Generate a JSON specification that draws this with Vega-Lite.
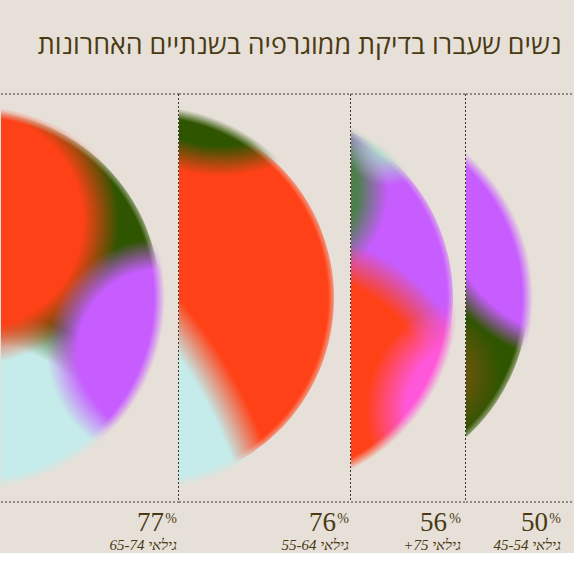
{
  "$schema": "https://vega.github.io/schema/vega-lite/v6.json",
  "background": "#e7e0d9",
  "padding": {"left": 0, "right": 0, "top": 32, "bottom": 0},
  "spacing": 0,
  "bounds": "flush",
  "title": {"text": "נשים שעברו בדיקת ממוגרפיה בשנתיים האחרונות", "anchor": "end", "fontSize": 26.8, "font": "Open Sans", "fontWeight": "normal", "color": "#4a3a12", "dx": -14, "offset": 34},
  "datasets": {
    "groups": [
      {"age": "65-74", "pct": 77, "label": "\u202bגילאי 65-74\u202c", "x": -28, "y": 204},
      {"age": "55-64", "pct": 76, "label": "\u202bגילאי 55-64\u202c", "x": -32, "y": 204},
      {"age": "75+", "pct": 56, "label": "\u202bגילאי 75+\u202c", "x": -85, "y": 204},
      {"age": "45-54", "pct": 50, "label": "\u202bגילאי 45-54\u202c", "x": -125, "y": 204}
    ],
    "red": [{"age": "65-74", "x": -25, "y": 127, "r": 143}, {"age": "75+", "x": -60, "y": 327, "r": 188}],
    "cyan": [{"age": "65-74", "x": -20, "y": 382, "r": 168}, {"age": "55-64", "x": -360, "y": 513, "r": 474}],
    "purple": [{"age": "65-74", "x": 158, "y": 257, "r": 112}, {"age": "45-54", "x": 119, "y": 104, "r": 167}],
    "green": [{"age": "55-64", "x": 42, "y": -73, "r": 155}],
    "sage": [{"age": "75+", "x": -60, "y": 97, "r": 97}],
    "mint": [{"age": "75+", "x": 38, "y": 47, "r": 45}],
    "pink": [{"age": "75+", "x": 130, "y": 317, "r": 115}],
    "brown": [{"age": "45-54", "x": -30, "y": 280, "r": 65}]
  },
  "resolve": {"scale": {"x": "independent", "y": "independent"}},
  "hconcat": [
    {
      "width": 178, "height": 408,
      "encoding": {
        "x": {"field": "x", "type": "quantitative", "scale": {"domain": [0, 178], "nice": false, "zero": false}, "axis": null},
        "y": {"field": "y", "type": "quantitative", "scale": {"domain": [0, 408], "nice": false, "zero": false, "reverse": true}, "axis": null}
      },
      "layer": [
        {"data": {"name": "groups"}, "transform": [{"filter": "datum.age == '65-74'"}],
         "mark": {"type": "arc", "clip": true, "radius": 187, "theta": 0, "theta2": 6.2832},
         "encoding": {"color": {"field": "age", "type": "nominal", "scale": {"domain": ["65-74", "55-64", "75+", "45-54"], "range": ["#2f5500", "#ff4117", "#c75cff", "#2f5500"]}, "legend": null}}},
        {"data": {"name": "cyan"}, "transform": [{"filter": "datum.age == '65-74'"}],
         "mark": {"type": "arc", "clip": true, "theta": 0, "theta2": 6.2832, "fill": {"gradient": "radial", "x1": 0.5, "y1": 0.5, "r1": 0, "x2": 0.5, "y2": 0.5, "r2": 0.5, "stops": [{"offset": 0, "color": "#c5ebea"}, {"offset": 0.786, "color": "#c5ebea"}, {"offset": 1, "color": "rgba(197,235,234,0)"}]}},
         "encoding": {"radius": {"field": "r", "type": "quantitative", "scale": {"type": "linear", "domain": [0, 600], "range": [0, 600]}}}},
        {"data": {"name": "red"}, "transform": [{"filter": "datum.age == '65-74'"}],
         "mark": {"type": "arc", "clip": true, "theta": 0, "theta2": 6.2832, "fill": {"gradient": "radial", "x1": 0.5, "y1": 0.5, "r1": 0, "x2": 0.5, "y2": 0.5, "r2": 0.5, "stops": [{"offset": 0, "color": "#ff4117"}, {"offset": 0.748, "color": "#ff4117"}, {"offset": 1, "color": "rgba(255,65,23,0)"}]}},
         "encoding": {"radius": {"field": "r", "type": "quantitative", "scale": {"type": "linear", "domain": [0, 600], "range": [0, 600]}}}},
        {"data": {"name": "purple"}, "transform": [{"filter": "datum.age == '65-74'"}],
         "mark": {"type": "arc", "clip": true, "theta": 0, "theta2": 6.2832, "fill": {"gradient": "radial", "x1": 0.5, "y1": 0.5, "r1": 0, "x2": 0.5, "y2": 0.5, "r2": 0.5, "stops": [{"offset": 0, "color": "#c75cff"}, {"offset": 0.727, "color": "#c75cff"}, {"offset": 1, "color": "rgba(199,92,255,0)"}]}},
         "encoding": {"radius": {"field": "r", "type": "quantitative", "scale": {"type": "linear", "domain": [0, 600], "range": [0, 600]}}}},
        {"data": {"name": "groups"}, "transform": [{"filter": "datum.age == '65-74'"}],
         "mark": {"type": "arc", "clip": true, "radius": 400, "radius2": 181, "theta": 0, "theta2": 6.2832, "fill": {"gradient": "radial", "x1": 0.5, "y1": 0.5, "r1": 0, "x2": 0.5, "y2": 0.5, "r2": 0.5, "stops": [{"offset": 0, "color": "rgba(231,224,217,0)"}, {"offset": 0.4525, "color": "rgba(231,224,217,0)"}, {"offset": 0.48, "color": "rgb(231,224,217)"}, {"offset": 1, "color": "rgb(231,224,217)"}]}}},
        {"data": {"name": "groups"}, "transform": [{"filter": "datum.age == '65-74'"}],
         "mark": {"type": "rule", "strokeDash": [2, 2], "color": "#3b3729", "strokeWidth": 1},
         "encoding": {"x": {"datum": 0}, "x2": {"datum": 178}, "y": {"datum": 0}}},
        {"data": {"name": "groups"}, "transform": [{"filter": "datum.age == '65-74'"}],
         "mark": {"type": "rule", "strokeDash": [2, 2], "color": "#3b3729", "strokeWidth": 1},
         "encoding": {"x": {"datum": 0}, "x2": {"datum": 178}, "y": {"datum": 408}}},
        {"data": {"name": "groups"}, "transform": [{"filter": "datum.age == '65-74'"}],
         "mark": {"type": "rule", "strokeDash": [2, 2], "color": "#3b3729", "strokeWidth": 1},
         "encoding": {"x": {"datum": 177.5}, "y": {"datum": 0}, "y2": {"datum": 408}}},
        {"data": {"name": "groups"}, "transform": [{"filter": "datum.age == '65-74'"}],
         "mark": {"type": "text", "align": "right", "baseline": "alphabetic", "font": "Liberation Serif", "fontSize": 27, "color": "#4a3a12", "dx": -15, "dy": 29},
         "encoding": {"x": {"value": "width"}, "y": {"value": "height"}, "text": {"field": "pct", "type": "quantitative"}}},
        {"data": {"name": "groups"}, "transform": [{"filter": "datum.age == '65-74'"}],
         "mark": {"type": "text", "align": "right", "baseline": "alphabetic", "font": "Liberation Serif", "fontSize": 14, "color": "#4a3a12", "dx": -2, "dy": 21},
         "encoding": {"x": {"value": "width"}, "y": {"value": "height"}, "text": {"value": "%"}}},
        {"data": {"name": "groups"}, "transform": [{"filter": "datum.age == '65-74'"}],
         "mark": {"type": "text", "align": "right", "baseline": "alphabetic", "font": "Liberation Serif", "fontStyle": "italic", "fontSize": 15, "color": "#4a3a12", "dx": -2, "dy": 48},
         "encoding": {"x": {"value": "width"}, "y": {"value": "height"}, "text": {"field": "label", "type": "nominal"}}}
      ]
    },
    {
      "width": 172, "height": 408,
      "encoding": {
        "x": {"field": "x", "type": "quantitative", "scale": {"domain": [0, 172], "nice": false, "zero": false}, "axis": null},
        "y": {"field": "y", "type": "quantitative", "scale": {"domain": [0, 408], "nice": false, "zero": false, "reverse": true}, "axis": null}
      },
      "layer": [
        {"data": {"name": "groups"}, "transform": [{"filter": "datum.age == '55-64'"}],
         "mark": {"type": "arc", "clip": true, "radius": 187, "theta": 0, "theta2": 6.2832},
         "encoding": {"color": {"field": "age", "type": "nominal", "scale": {"domain": ["65-74", "55-64", "75+", "45-54"], "range": ["#2f5500", "#ff4117", "#c75cff", "#2f5500"]}, "legend": null}}},
        {"data": {"name": "green"}, "transform": [{"filter": "datum.age == '55-64'"}],
         "mark": {"type": "arc", "clip": true, "theta": 0, "theta2": 6.2832, "fill": {"gradient": "radial", "x1": 0.5, "y1": 0.5, "r1": 0, "x2": 0.5, "y2": 0.5, "r2": 0.5, "stops": [{"offset": 0, "color": "#2f5500"}, {"offset": 0.806, "color": "#2f5500"}, {"offset": 1, "color": "rgba(47,85,0,0)"}]}},
         "encoding": {"radius": {"field": "r", "type": "quantitative", "scale": {"type": "linear", "domain": [0, 600], "range": [0, 600]}}}},
        {"data": {"name": "cyan"}, "transform": [{"filter": "datum.age == '55-64'"}],
         "mark": {"type": "arc", "clip": true, "theta": 0, "theta2": 6.2832, "fill": {"gradient": "radial", "x1": 0.5, "y1": 0.5, "r1": 0, "x2": 0.5, "y2": 0.5, "r2": 0.5, "stops": [{"offset": 0, "color": "#c5ebea"}, {"offset": 0.924, "color": "#c5ebea"}, {"offset": 1, "color": "rgba(197,235,234,0)"}]}},
         "encoding": {"radius": {"field": "r", "type": "quantitative", "scale": {"type": "linear", "domain": [0, 600], "range": [0, 600]}}}},
        {"data": {"name": "groups"}, "transform": [{"filter": "datum.age == '55-64'"}],
         "mark": {"type": "arc", "clip": true, "radius": 400, "radius2": 181, "theta": 0, "theta2": 6.2832, "fill": {"gradient": "radial", "x1": 0.5, "y1": 0.5, "r1": 0, "x2": 0.5, "y2": 0.5, "r2": 0.5, "stops": [{"offset": 0, "color": "rgba(231,224,217,0)"}, {"offset": 0.4525, "color": "rgba(231,224,217,0)"}, {"offset": 0.48, "color": "rgb(231,224,217)"}, {"offset": 1, "color": "rgb(231,224,217)"}]}}},
        {"data": {"name": "groups"}, "transform": [{"filter": "datum.age == '55-64'"}],
         "mark": {"type": "rule", "strokeDash": [2, 2], "color": "#3b3729", "strokeWidth": 1},
         "encoding": {"x": {"datum": 0}, "x2": {"datum": 172}, "y": {"datum": 0}}},
        {"data": {"name": "groups"}, "transform": [{"filter": "datum.age == '55-64'"}],
         "mark": {"type": "rule", "strokeDash": [2, 2], "color": "#3b3729", "strokeWidth": 1},
         "encoding": {"x": {"datum": 0}, "x2": {"datum": 172}, "y": {"datum": 408}}},
        {"data": {"name": "groups"}, "transform": [{"filter": "datum.age == '55-64'"}],
         "mark": {"type": "rule", "strokeDash": [2, 2], "color": "#3b3729", "strokeWidth": 1},
         "encoding": {"x": {"datum": 171.5}, "y": {"datum": 0}, "y2": {"datum": 408}}},
        {"data": {"name": "groups"}, "transform": [{"filter": "datum.age == '55-64'"}],
         "mark": {"type": "text", "align": "right", "baseline": "alphabetic", "font": "Liberation Serif", "fontSize": 27, "color": "#4a3a12", "dx": -15, "dy": 29},
         "encoding": {"x": {"value": "width"}, "y": {"value": "height"}, "text": {"field": "pct", "type": "quantitative"}}},
        {"data": {"name": "groups"}, "transform": [{"filter": "datum.age == '55-64'"}],
         "mark": {"type": "text", "align": "right", "baseline": "alphabetic", "font": "Liberation Serif", "fontSize": 14, "color": "#4a3a12", "dx": -2, "dy": 21},
         "encoding": {"x": {"value": "width"}, "y": {"value": "height"}, "text": {"value": "%"}}},
        {"data": {"name": "groups"}, "transform": [{"filter": "datum.age == '55-64'"}],
         "mark": {"type": "text", "align": "right", "baseline": "alphabetic", "font": "Liberation Serif", "fontStyle": "italic", "fontSize": 15, "color": "#4a3a12", "dx": -2, "dy": 48},
         "encoding": {"x": {"value": "width"}, "y": {"value": "height"}, "text": {"field": "label", "type": "nominal"}}}
      ]
    },
    {
      "width": 115, "height": 408,
      "encoding": {
        "x": {"field": "x", "type": "quantitative", "scale": {"domain": [0, 115], "nice": false, "zero": false}, "axis": null},
        "y": {"field": "y", "type": "quantitative", "scale": {"domain": [0, 408], "nice": false, "zero": false, "reverse": true}, "axis": null}
      },
      "layer": [
        {"data": {"name": "groups"}, "transform": [{"filter": "datum.age == '75+'"}],
         "mark": {"type": "arc", "clip": true, "radius": 187, "theta": 0, "theta2": 6.2832},
         "encoding": {"color": {"field": "age", "type": "nominal", "scale": {"domain": ["65-74", "55-64", "75+", "45-54"], "range": ["#2f5500", "#ff4117", "#c75cff", "#2f5500"]}, "legend": null}}},
        {"data": {"name": "sage"}, "transform": [{"filter": "datum.age == '75+'"}],
         "mark": {"type": "arc", "clip": true, "theta": 0, "theta2": 6.2832, "fill": {"gradient": "radial", "x1": 0.5, "y1": 0.5, "r1": 0, "x2": 0.5, "y2": 0.5, "r2": 0.5, "stops": [{"offset": 0, "color": "#4d7f4d"}, {"offset": 0.69, "color": "#4d7f4d"}, {"offset": 1, "color": "rgba(77,127,77,0)"}]}},
         "encoding": {"radius": {"field": "r", "type": "quantitative", "scale": {"type": "linear", "domain": [0, 600], "range": [0, 600]}}}},
        {"data": {"name": "mint"}, "transform": [{"filter": "datum.age == '75+'"}],
         "mark": {"type": "arc", "clip": true, "theta": 0, "theta2": 6.2832, "fill": {"gradient": "radial", "x1": 0.5, "y1": 0.5, "r1": 0, "x2": 0.5, "y2": 0.5, "r2": 0.5, "stops": [{"offset": 0, "color": "#a8dbc8"}, {"offset": 0.3, "color": "#a8dbc8"}, {"offset": 1, "color": "rgba(168,219,200,0)"}]}},
         "encoding": {"radius": {"field": "r", "type": "quantitative", "scale": {"type": "linear", "domain": [0, 600], "range": [0, 600]}}}},
        {"data": {"name": "red"}, "transform": [{"filter": "datum.age == '75+'"}],
         "mark": {"type": "arc", "clip": true, "theta": 0, "theta2": 6.2832, "fill": {"gradient": "radial", "x1": 0.5, "y1": 0.5, "r1": 0, "x2": 0.5, "y2": 0.5, "r2": 0.5, "stops": [{"offset": 0, "color": "#ff4117"}, {"offset": 0.787, "color": "#ff4117"}, {"offset": 1, "color": "rgba(255,65,23,0)"}]}},
         "encoding": {"radius": {"field": "r", "type": "quantitative", "scale": {"type": "linear", "domain": [0, 600], "range": [0, 600]}}}},
        {"data": {"name": "pink"}, "transform": [{"filter": "datum.age == '75+'"}],
         "mark": {"type": "arc", "clip": true, "theta": 0, "theta2": 6.2832, "fill": {"gradient": "radial", "x1": 0.5, "y1": 0.5, "r1": 0, "x2": 0.5, "y2": 0.5, "r2": 0.5, "stops": [{"offset": 0, "color": "#ff57d9"}, {"offset": 0.652, "color": "#ff57d9"}, {"offset": 1, "color": "rgba(255,87,217,0)"}]}},
         "encoding": {"radius": {"field": "r", "type": "quantitative", "scale": {"type": "linear", "domain": [0, 600], "range": [0, 600]}}}},
        {"data": {"name": "groups"}, "transform": [{"filter": "datum.age == '75+'"}],
         "mark": {"type": "arc", "clip": true, "radius": 400, "radius2": 181, "theta": 0, "theta2": 6.2832, "fill": {"gradient": "radial", "x1": 0.5, "y1": 0.5, "r1": 0, "x2": 0.5, "y2": 0.5, "r2": 0.5, "stops": [{"offset": 0, "color": "rgba(231,224,217,0)"}, {"offset": 0.4525, "color": "rgba(231,224,217,0)"}, {"offset": 0.48, "color": "rgb(231,224,217)"}, {"offset": 1, "color": "rgb(231,224,217)"}]}}},
        {"data": {"name": "groups"}, "transform": [{"filter": "datum.age == '75+'"}],
         "mark": {"type": "rule", "strokeDash": [2, 2], "color": "#3b3729", "strokeWidth": 1},
         "encoding": {"x": {"datum": 0}, "x2": {"datum": 115}, "y": {"datum": 0}}},
        {"data": {"name": "groups"}, "transform": [{"filter": "datum.age == '75+'"}],
         "mark": {"type": "rule", "strokeDash": [2, 2], "color": "#3b3729", "strokeWidth": 1},
         "encoding": {"x": {"datum": 0}, "x2": {"datum": 115}, "y": {"datum": 408}}},
        {"data": {"name": "groups"}, "transform": [{"filter": "datum.age == '75+'"}],
         "mark": {"type": "rule", "strokeDash": [2, 2], "color": "#3b3729", "strokeWidth": 1},
         "encoding": {"x": {"datum": 114.5}, "y": {"datum": 0}, "y2": {"datum": 408}}},
        {"data": {"name": "groups"}, "transform": [{"filter": "datum.age == '75+'"}],
         "mark": {"type": "text", "align": "right", "baseline": "alphabetic", "font": "Liberation Serif", "fontSize": 27, "color": "#4a3a12", "dx": -19, "dy": 29},
         "encoding": {"x": {"value": "width"}, "y": {"value": "height"}, "text": {"field": "pct", "type": "quantitative"}}},
        {"data": {"name": "groups"}, "transform": [{"filter": "datum.age == '75+'"}],
         "mark": {"type": "text", "align": "right", "baseline": "alphabetic", "font": "Liberation Serif", "fontSize": 14, "color": "#4a3a12", "dx": -5, "dy": 21},
         "encoding": {"x": {"value": "width"}, "y": {"value": "height"}, "text": {"value": "%"}}},
        {"data": {"name": "groups"}, "transform": [{"filter": "datum.age == '75+'"}],
         "mark": {"type": "text", "align": "right", "baseline": "alphabetic", "font": "Liberation Serif", "fontStyle": "italic", "fontSize": 15, "color": "#4a3a12", "dx": -5, "dy": 48},
         "encoding": {"x": {"value": "width"}, "y": {"value": "height"}, "text": {"field": "label", "type": "nominal"}}}
      ]
    },
    {
      "width": 109, "height": 408,
      "encoding": {
        "x": {"field": "x", "type": "quantitative", "scale": {"domain": [0, 109], "nice": false, "zero": false}, "axis": null},
        "y": {"field": "y", "type": "quantitative", "scale": {"domain": [0, 408], "nice": false, "zero": false, "reverse": true}, "axis": null}
      },
      "layer": [
        {"data": {"name": "groups"}, "transform": [{"filter": "datum.age == '45-54'"}],
         "mark": {"type": "arc", "clip": true, "radius": 187, "theta": 0, "theta2": 6.2832},
         "encoding": {"color": {"field": "age", "type": "nominal", "scale": {"domain": ["65-74", "55-64", "75+", "45-54"], "range": ["#2f5500", "#ff4117", "#c75cff", "#2f5500"]}, "legend": null}}},
        {"data": {"name": "brown"}, "transform": [{"filter": "datum.age == '45-54'"}],
         "mark": {"type": "arc", "clip": true, "theta": 0, "theta2": 6.2832, "fill": {"gradient": "radial", "x1": 0.5, "y1": 0.5, "r1": 0, "x2": 0.5, "y2": 0.5, "r2": 0.5, "stops": [{"offset": 0, "color": "rgba(122,84,16,0.85)"}, {"offset": 0.4, "color": "rgba(122,84,16,0.85)"}, {"offset": 1, "color": "rgba(122,84,16,0)"}]}},
         "encoding": {"radius": {"field": "r", "type": "quantitative", "scale": {"type": "linear", "domain": [0, 600], "range": [0, 600]}}}},
        {"data": {"name": "purple"}, "transform": [{"filter": "datum.age == '45-54'"}],
         "mark": {"type": "arc", "clip": true, "theta": 0, "theta2": 6.2832, "fill": {"gradient": "radial", "x1": 0.5, "y1": 0.5, "r1": 0, "x2": 0.5, "y2": 0.5, "r2": 0.5, "stops": [{"offset": 0, "color": "#c75cff"}, {"offset": 0.844, "color": "#c75cff"}, {"offset": 1, "color": "rgba(199,92,255,0)"}]}},
         "encoding": {"radius": {"field": "r", "type": "quantitative", "scale": {"type": "linear", "domain": [0, 600], "range": [0, 600]}}}},
        {"data": {"name": "groups"}, "transform": [{"filter": "datum.age == '45-54'"}],
         "mark": {"type": "arc", "clip": true, "radius": 400, "radius2": 181, "theta": 0, "theta2": 6.2832, "fill": {"gradient": "radial", "x1": 0.5, "y1": 0.5, "r1": 0, "x2": 0.5, "y2": 0.5, "r2": 0.5, "stops": [{"offset": 0, "color": "rgba(231,224,217,0)"}, {"offset": 0.4525, "color": "rgba(231,224,217,0)"}, {"offset": 0.48, "color": "rgb(231,224,217)"}, {"offset": 1, "color": "rgb(231,224,217)"}]}}},
        {"data": {"name": "groups"}, "transform": [{"filter": "datum.age == '45-54'"}],
         "mark": {"type": "rule", "strokeDash": [2, 2], "color": "#3b3729", "strokeWidth": 1},
         "encoding": {"x": {"datum": 0}, "x2": {"datum": 109}, "y": {"datum": 0}}},
        {"data": {"name": "groups"}, "transform": [{"filter": "datum.age == '45-54'"}],
         "mark": {"type": "rule", "strokeDash": [2, 2], "color": "#3b3729", "strokeWidth": 1},
         "encoding": {"x": {"datum": 0}, "x2": {"datum": 109}, "y": {"datum": 408}}},
        {"data": {"name": "groups"}, "transform": [{"filter": "datum.age == '45-54'"}],
         "mark": {"type": "text", "align": "right", "baseline": "alphabetic", "font": "Liberation Serif", "fontSize": 27, "color": "#4a3a12", "dx": -27, "dy": 29},
         "encoding": {"x": {"value": "width"}, "y": {"value": "height"}, "text": {"field": "pct", "type": "quantitative"}}},
        {"data": {"name": "groups"}, "transform": [{"filter": "datum.age == '45-54'"}],
         "mark": {"type": "text", "align": "right", "baseline": "alphabetic", "font": "Liberation Serif", "fontSize": 14, "color": "#4a3a12", "dx": -14, "dy": 21},
         "encoding": {"x": {"value": "width"}, "y": {"value": "height"}, "text": {"value": "%"}}},
        {"data": {"name": "groups"}, "transform": [{"filter": "datum.age == '45-54'"}],
         "mark": {"type": "text", "align": "right", "baseline": "alphabetic", "font": "Liberation Serif", "fontStyle": "italic", "fontSize": 15, "color": "#4a3a12", "dx": -14, "dy": 48},
         "encoding": {"x": {"value": "width"}, "y": {"value": "height"}, "text": {"field": "label", "type": "nominal"}}}
      ]
    }
  ],
  "config": {
    "view": {"stroke": null, "fill": null}
  }
}
